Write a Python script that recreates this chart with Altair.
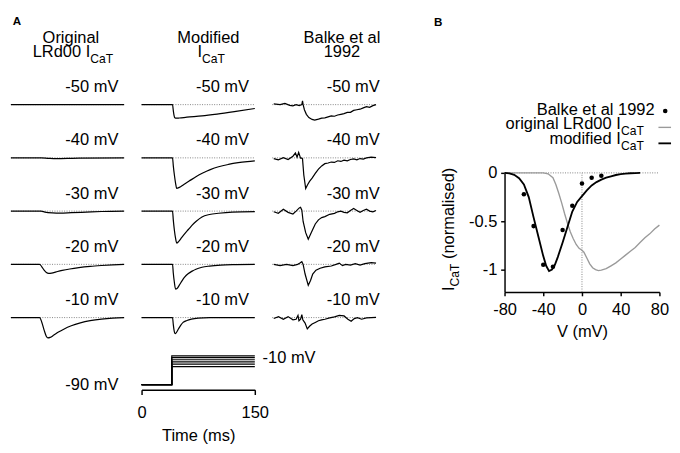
import altair as alt
import pandas as pd

FONT = "Liberation Sans"
FS = 17
SUBFS = 12.5
CELL_W = 117
CELL_H = 50.5
TRACE_DOMAIN = [-35, 15.5]
TDOM = [0, 150]

# ---------------- Panel A data: time (ms) / current (arbitrary units) ----------------
voltages = ["-50 mV", "-40 mV", "-30 mV", "-20 mV", "-10 mV"]

orig_t = [
    [0, 150],
    [0, 40, 50, 60, 75, 90, 150],
    [0, 40, 45, 55, 65, 80, 100, 120, 150],
    [0, 38, 41, 44, 47, 50, 54, 60, 68, 78, 90, 105, 120, 135, 150],
    [0, 38, 41, 44, 47, 49, 52, 57, 63, 70, 80, 92, 105, 120, 135, 150],
]
orig_i = [
    [0, 0],
    [0, 0, -0.5, -0.8, -0.6, -0.2, 0],
    [0, 0, -1, -1.8, -2, -1.6, -1, -0.4, 0],
    [0, 0, -2.5, -6, -8.5, -9.3, -9, -7.8, -6.3, -4.8, -3.4, -2.1, -1.2, -0.5, 0],
    [0, 0, -5, -13, -19.5, -21, -20.5, -18, -15, -12, -8.5, -5.5, -3.2, -1.5, -0.5, 0],
]

mod_t = [
    [0, 41, 42, 43, 44, 46, 50, 60, 80, 100, 125, 150],
    [0, 41, 42, 43.5, 45, 46.5, 50, 56, 63, 72, 81, 91, 102, 115, 128, 140, 150],
    [0, 41, 42, 43.5, 45, 46.5, 49, 53, 57, 62, 67, 72, 80, 90, 102, 120, 150],
    [0, 41, 42, 43.5, 45, 47, 50, 54, 57, 62, 67, 72, 80, 90, 105, 125, 150],
    [0, 41, 42, 43, 44.5, 46, 49, 52, 55, 60, 66, 75, 90, 150],
]
mod_i = [
    [0, 0, -6, -11, -13.5, -14, -13.8, -13, -11.7, -9.8, -7, -4],
    [0, 0, -8, -18, -26, -31.5, -30.5, -27.5, -24, -19.5, -15.7, -12.2, -9.2, -6.8, -5, -3.8, -3],
    [0, 0, -9, -20, -28, -33, -31.5, -27.5, -23.5, -19, -14.5, -10.7, -6, -3.5, -2.2, -1, -0.5],
    [0, 0, -9, -19, -25.5, -25, -21.5, -16.5, -13.3, -9.5, -7, -5, -3, -1.8, -0.8, -0.3, 0],
    [0, 0, -7, -13, -16.5, -15.5, -11.5, -7.8, -5, -3, -1.6, -0.6, -0.1, 0],
]

balke_t = [
    [2, 10.4, 16.8, 23.1, 27.4, 31.6, 35.8, 39.2, 40.1, 40.9, 42.6, 45.2, 48.5, 52.8, 56.2, 61.2, 65.5,
     69.7, 74, 78.2, 82.4, 86.7, 90.9, 95.1, 99.4, 103.6, 107.8, 112.1, 116.3, 120.6, 124.8, 129, 133.3, 137.5],
    [2, 8, 14.7, 21, 27.4, 30.7, 32.9, 35, 37.5, 39.2, 40.1, 41.8, 44.3, 46.8, 49.4, 52.8, 57, 61.2, 65.5,
     69.7, 74, 78.2, 82.4, 86.7, 90.9, 95.1, 99.4, 103.6, 107.8, 112.1, 116.3, 120.6, 124.8, 131, 137.5],
    [2, 8, 14.7, 21, 27.4, 31.6, 35.8, 37.5, 39.2, 40.9, 44.3, 47.7, 50.7, 53.6, 57, 61.2, 65.5, 69.7,
     76.1, 82.4, 86.7, 90.9, 95.1, 99.4, 103.6, 107.8, 112.1, 116.3, 120.6, 124.8, 129, 133.3, 137.5],
    [2, 10.4, 18.9, 27.4, 33.7, 36.7, 39.2, 40.9, 43.5, 47.7, 50.7, 53.6, 57.9, 63.4, 69.7, 78.2, 84.5,
     88.8, 93, 97.3, 103.6, 110, 116.3, 122.7, 131.1, 137.5],
    [2, 8.3, 14.7, 21, 27.4, 31.6, 34.1, 35.4, 37.5, 39.2, 40.5, 43.5, 46.4, 49.4, 52.8, 57, 61.2, 65.5,
     69.7, 76.1, 82.4, 88.8, 95.1, 100.2, 104.5, 108.7, 112.9, 118.4, 124.8, 131.1, 137.5],
]
balke_i = [
    [0.7, 0, 1.3, -0.7, -1.3, 0, -1, 0, 4, 0, -5.3, -10, -13.3, -15.3, -16, -15, -14, -13.7, -12.7,
     -11.7, -12, -10.7, -10, -9.3, -8, -8, -6, -5.3, -4.7, -3.3, -2, -2.7, -1, 0],
    [-0.7, -2, 0.3, -1.7, 1.7, 5, 0.7, 5.7, -0.3, -0.3, -1, -17.7, -31.7, -27.7, -24.3, -21, -16, -11.7,
     -8.3, -6, -5.3, -4.3, -4.7, -3, -3.7, -2.3, -3, -1.7, -1, -2, -0.7, -1.3, 0, 0.7, 0.3],
    [-0.7, -2.3, 2, -1.3, -3, 0, 3.3, 4, 1, -10.7, -22.3, -29, -24, -19, -13.3, -9, -6.7, -5.7, -3.3,
     -2.3, -0.7, 0, -1.3, -1.7, 0.7, 2.7, 0.7, -1.3, 0.7, 2, 0, -0.7, 0.7],
    [0, -1.3, 0, -1.3, 0, 1.3, 2.7, 0, -10, -21.7, -16.7, -10, -6, -4, -2.7, -1.7, 0, 1.3, -1.3, 0,
     -0.7, 0.7, -0.7, 0.7, 1.7, 1.3],
    [-1, 1, -1.7, 1, -2.3, -1.7, 2.3, -3.3, -1.7, 3, -2.3, -5.7, -11.7, -9, -6.7, -5, -3.3, -2.3, -1.7,
     -0.3, 0.7, 2.3, 1.7, -1.7, -3.7, -1, 0, -1.7, -0.3, 0, 0.3],
]

# voltage-clamp protocol
hold_v = -90
step_t = 40
prot_levels = [-10, -15, -21, -27, -33, -40]
prot_times = [0, step_t, step_t, 150]

# ---------------- Panel B data: I-V relation ----------------
balke_v = [-60, -50, -40, -30, -20, -10, 0, 10, 20]
balke_norm = [-0.22, -0.55, -0.95, -0.97, -0.59, -0.34, -0.11, -0.05, -0.03]

modiv_v = [-80, -75, -70, -65, -60, -55, -50, -45, -40, -37, -34, -31, -28, -25, -20, -15, -10, -5,
           0, 5, 10, 15, 20, 25, 30, 35, 40, 45, 50, 55, 60]
modiv_norm = [0, -0.005, -0.02, -0.055, -0.12, -0.25, -0.46, -0.66, -0.86, -0.96, -1.015, -1.0, -0.95,
              -0.87, -0.72, -0.56, -0.4, -0.3, -0.24, -0.18, -0.13, -0.095, -0.07, -0.05, -0.035,
              -0.022, -0.013, -0.007, -0.004, -0.002, 0]

origiv_v = [-80, -70, -60, -50, -40, -35, -30, -27, -24, -21, -18, -15, -12, -9, -6, -3, 0, 2, 5, 8,
            11, 14, 17, 20, 25, 30, 35, 40, 45, 50, 55, 60, 65, 70, 75, 80]
origiv_norm = [0, 0, 0, 0, 0, -0.01, -0.05, -0.12, -0.21, -0.31, -0.42, -0.52, -0.61, -0.68, -0.74,
               -0.78, -0.8, -0.82, -0.88, -0.94, -0.98, -1.0, -1.01, -1.005, -0.99, -0.96, -0.93,
               -0.89, -0.85, -0.81, -0.77, -0.72, -0.67, -0.63, -0.58, -0.54]

MINUS_FIX = "replace(datum.label, '\u2212', '-')"

# ---------------- Panel A construction ----------------
xA = alt.X("t:Q", scale=alt.Scale(domain=TDOM, nice=False, zero=False), axis=None)
yA = alt.Y("i:Q", scale=alt.Scale(domain=TRACE_DOMAIN, nice=False, zero=False), axis=None)


def textA(t, i, s, **kw):
    d = pd.DataFrame({"t": [t], "i": [i], "s": [s]})
    return alt.Chart(d).mark_text(baseline="alphabetic", **kw).encode(x=xA, y=yA, text="s:N")


def trace_cell(t, i, label, interp, t_end, extra=None):
    base = alt.Chart(pd.DataFrame({"t": [0], "t2": [t_end], "i": [0]})).mark_rule(
        color="#808080", strokeWidth=1, strokeDash=[1, 1.5]
    ).encode(x=xA, x2="t2:Q", y=yA)
    line = alt.Chart(pd.DataFrame({"t": t, "i": i, "k": list(range(len(t)))})).mark_line(
        color="black", strokeWidth=1.25, interpolate=interp
    ).encode(x=xA, y=yA, order="k:Q")
    lab = textA(150, 13, label, align="right", dx=-6, fontSize=FS)
    layers = [base, line, lab] + (extra or [])
    return alt.layer(*layers).properties(width=CELL_W, height=CELL_H)


head1 = [
    textA(2.6, 82, "A", align="left", fontSize=12, fontWeight="bold"),
    textA(79.5, 64, "Original", align="center", fontSize=FS),
    textA(28.8, 49, "LRd00 I", align="left", fontSize=FS),
    textA(28.8, 49, "CaT", align="left", fontSize=SUBFS, dx=59.5, dy=6),
]
head2 = [
    textA(88.5, 64, "Modified", align="center", fontSize=FS),
    textA(74.1, 49, "I", align="left", fontSize=FS),
    textA(74.1, 49, "CaT", align="left", fontSize=SUBFS, dx=4.7, dy=6),
]
head3 = [
    textA(92.3, 64, "Balke et al", align="center", fontSize=FS),
    textA(92.3, 49, "1992", align="center", fontSize=FS),
]

cells = []
for r in range(5):
    cells.append(trace_cell(orig_t[r], orig_i[r], voltages[r], "monotone", 150, head1 if r == 0 else None))
    cells.append(trace_cell(mod_t[r], mod_i[r], voltages[r], "monotone", 150, head2 if r == 0 else None))
    cells.append(trace_cell(balke_t[r], balke_i[r], voltages[r], "linear", 137.5, head3 if r == 0 else None))

# protocol cell
prot_rows = []
for j, lev in enumerate(prot_levels):
    vals = [hold_v, hold_v, lev, lev]
    for k, (tt, vv) in enumerate(zip(prot_times, vals)):
        prot_rows.append({"t": tt, "v": vv, "sweep": j, "k": k})
prot_df = pd.DataFrame(prot_rows)

axisT = alt.Axis(values=[0, 150], title="Time (ms)", tickSize=5, labelPadding=11, titlePadding=8,
                 domainWidth=1.5, tickWidth=1.5, labelFlush=False, grid=False, format="d")
xP = alt.X("t:Q", scale=alt.Scale(domain=TDOM, nice=False, zero=False), axis=axisT)
yP = alt.Y("v:Q", scale=alt.Scale(domain=[-104.3, -10], nice=False, zero=False), axis=None)

prot_lines = alt.Chart(prot_df).mark_line(color="black", strokeWidth=1.2).encode(
    x=xP, y=yP, detail="sweep:N", order="k:Q")
prot_txt = pd.DataFrame({"t": [0, 150], "v": [hold_v, prot_levels[0]], "s": ["-90 mV", "-10 mV"]})
prot_l1 = alt.Chart(prot_txt.iloc[[0]]).mark_text(align="right", baseline="middle", dx=-24, dy=1, fontSize=FS).encode(
    x=xP, y=yP, text="s:N")
prot_l2 = alt.Chart(prot_txt.iloc[[1]]).mark_text(align="left", baseline="middle", dx=8, dy=2, fontSize=FS).encode(
    x=xP, y=yP, text="s:N")
protocol = alt.layer(prot_lines, prot_l1, prot_l2).properties(width=CELL_W, height=35)


def blank(w, h):
    return alt.Chart(pd.DataFrame({"t": [0], "i": [0]})).mark_point(opacity=0).encode(
        x=alt.X("t:Q", axis=None), y=alt.Y("i:Q", axis=None)).properties(width=w, height=h)


cells += [blank(CELL_W, 35), protocol, blank(CELL_W, 35)]

panelA = alt.concat(*cells, columns=3, spacing={"row": 4, "column": 18}, bounds="flush")

# ---------------- Panel B construction ----------------
axisXB = alt.Axis(values=[-80, -40, 0, 40, 80], title="V (mV)", tickSize=4, labelPadding=6, titlePadding=7,
                  domainWidth=1.5, tickWidth=1.5, labelFlush=False, grid=False, format="d", labelExpr=MINUS_FIX)
axisYB = alt.Axis(values=[0, -0.5, -1], title=None, tickSize=4, labelPadding=4, domainWidth=1.5,
                  tickWidth=1.5, grid=False, format=".1~f", labelExpr=MINUS_FIX)
xB = alt.X("V:Q", scale=alt.Scale(domain=[-80, 80], nice=False, zero=False), axis=axisXB)
yB = alt.Y("I:Q", scale=alt.Scale(domain=[-1.23, 0], nice=False, zero=False), axis=axisYB)

hrule = alt.Chart(pd.DataFrame({"V": [-80], "V2": [80], "I": [0]})).mark_rule(
    color="#808080", strokeWidth=1, strokeDash=[1, 1.5]).encode(x=xB, x2="V2:Q", y=yB)
vrule = alt.Chart(pd.DataFrame({"V": [0], "I": [-1.23], "I2": [0]})).mark_rule(
    color="#808080", strokeWidth=1, strokeDash=[1, 1.5]).encode(x=xB, y=yB, y2="I2:Q")
grey_curve = alt.Chart(pd.DataFrame({"V": origiv_v, "I": origiv_norm})).mark_line(
    color="#9a9a9a", strokeWidth=1.4).encode(x=xB, y=yB)
black_curve = alt.Chart(pd.DataFrame({"V": modiv_v, "I": modiv_norm})).mark_line(
    color="black", strokeWidth=1.9).encode(x=xB, y=yB)
pts = alt.Chart(pd.DataFrame({"V": balke_v, "I": balke_norm})).mark_circle(
    color="black", size=22, opacity=1).encode(x=xB, y=yB)


def textB(v, i, s, **kw):
    d = pd.DataFrame({"V": [v], "I": [i], "s": [s]})
    return alt.Chart(d).mark_text(baseline="alphabetic", **kw).encode(x=xB, y=yB, text="s:N")


SUBW = 24
legend_layers = [
    textB(-153, 1.52, "B", align="left", fontSize=12, fontWeight="bold"),
    textB(75, 0.60, "Balke et al 1992", align="right", fontSize=FS),
    textB(64, 0.45, "original LRd00 I", align="right", fontSize=FS, dx=-SUBW),
    textB(64, 0.45, "CaT", align="right", fontSize=SUBFS, dy=6),
    textB(64, 0.30, "modified I", align="right", fontSize=FS, dx=-SUBW),
    textB(64, 0.30, "CaT", align="right", fontSize=SUBFS, dy=6),
    alt.Chart(pd.DataFrame({"V": [86], "I": [0.64]})).mark_circle(color="black", size=22, opacity=1).encode(x=xB, y=yB),
    alt.Chart(pd.DataFrame({"V": [79], "V2": [92], "I": [0.47]})).mark_rule(color="#9a9a9a", strokeWidth=1.4).encode(
        x=xB, x2="V2:Q", y=yB),
    alt.Chart(pd.DataFrame({"V": [79], "V2": [92], "I": [0.305]})).mark_rule(color="black", strokeWidth=1.9).encode(
        x=xB, x2="V2:Q", y=yB),
    # rotated y-axis title with subscript
    textB(-132, -1.22, "I", align="left", angle=270, fontSize=FS),
    textB(-132, -1.22, "CaT", align="left", angle=270, fontSize=SUBFS, dx=4.7, dy=5),
    textB(-132, -1.22, "(normalised)", align="left", angle=270, fontSize=FS, dx=33),
]

plotB = alt.layer(hrule, vrule, grey_curve, black_curve, pts, *legend_layers).properties(width=160, height=123)
panelB = alt.vconcat(blank(160, 75.5), plotB, spacing=10, bounds="flush")

chart = alt.hconcat(panelA, panelB, spacing=50).properties(padding=0, background="white")
chart = chart.configure_view(strokeWidth=0).configure_axis(
    labelFont=FONT, titleFont=FONT, labelFontSize=FS, titleFontSize=FS, labelColor="black",
    titleColor="black", domainColor="black", tickColor="black", titleFontWeight="normal"
).configure_text(font=FONT, fontSize=FS, color="black")

chart.save("out.html", embed_options={"renderer": "svg", "actions": False})
